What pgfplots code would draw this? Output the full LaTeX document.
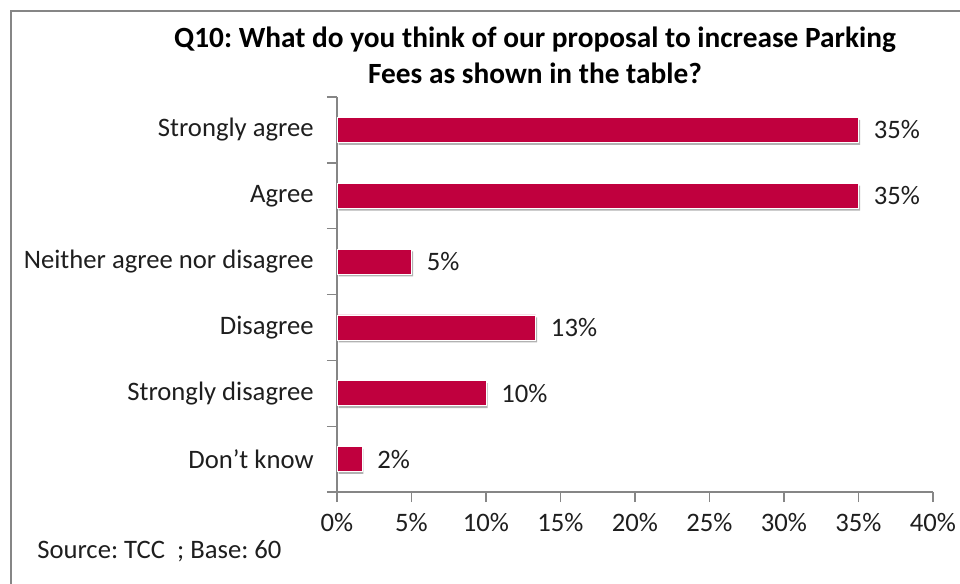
\documentclass[border=0pt]{standalone}
\usepackage{fontspec}
\setmainfont{Carlito}
\usepackage{pgfplots}
\usepackage{pgfplotstable}
\pgfplotsset{compat=1.18}
\usetikzlibrary{shadows}
\definecolor{barred}{RGB}{192,0,62}
\definecolor{axgray}{RGB}{134,134,134}
\definecolor{txt}{RGB}{30,30,30}
\pgfplotstableread{
y x lab
5 35 35\%
4 35 35\%
3 5 5\%
2 13.33 13\%
1 10 10\%
0 1.67 2\%
}\datatab
\frenchspacing
\begin{document}
\begin{tikzpicture}[x=0.75pt,y=0.75pt]
\useasboundingbox (0,0) rectangle (960,583);
\draw[axgray,line width=1.5pt] (11,-5) -- (11,572) -- (970,572);
\node[font=\bfseries\fontsize{22}{27}\selectfont,text=black,align=center] at (535,528) {Q10: What do you think of our proposal to increase Parking\\Fees as shown in the table?};
\node[anchor=west,font=\fontsize{20}{24}\selectfont,text=txt,inner sep=0pt] at (37,32) {Source: TCC\ \ ; Base: 60};
\begin{axis}[
  at={(252.75pt,68.25pt)}, anchor=south west,
  scale only axis, width=447pt, height=296.25pt,
  xmin=0, xmax=40, ymin=-0.5, ymax=5.5,
  axis x line=bottom, axis y line=left,
  axis line style={-, draw=axgray, line width=1pt},
  xtick={0,5,...,40},
  xticklabel={\pgfmathprintnumber{\tick}\%},
  /pgf/number format/assume math mode=true,
  ytick={-0.5,0.5,...,5.5}, yticklabels={,,,,,,},
  extra y ticks={0,1,2,3,4,5},
  extra y tick labels={Don’t know,Strongly disagree,Disagree,Neither agree nor disagree,Agree,Strongly agree},
  extra y tick style={tick style={draw=none}},
  tick align=outside, major tick length=7.5pt,
  tick style={draw=axgray, line width=1pt},
  ticklabel style={font=\fontsize{20}{24}\selectfont, text=txt},
  yticklabel style={xshift=-6.5pt},
  xticklabel style={yshift=-5pt},
  clip=false,
]
\addplot[xbar, bar width=18.75pt, fill=barred, draw=white, line width=0.4pt,
  drop shadow={shadow xshift=1.2pt, shadow yshift=-1.8pt, opacity=0.3, fill=black, draw=none},
  nodes near coords, point meta=explicit symbolic,
  every node near coord/.append style={font=\fontsize{20}{24}\selectfont, text=txt, anchor=west, xshift=8pt}]
  table[x=x,y=y,meta=lab] {\datatab};
\end{axis}
\end{tikzpicture}
\end{document}
